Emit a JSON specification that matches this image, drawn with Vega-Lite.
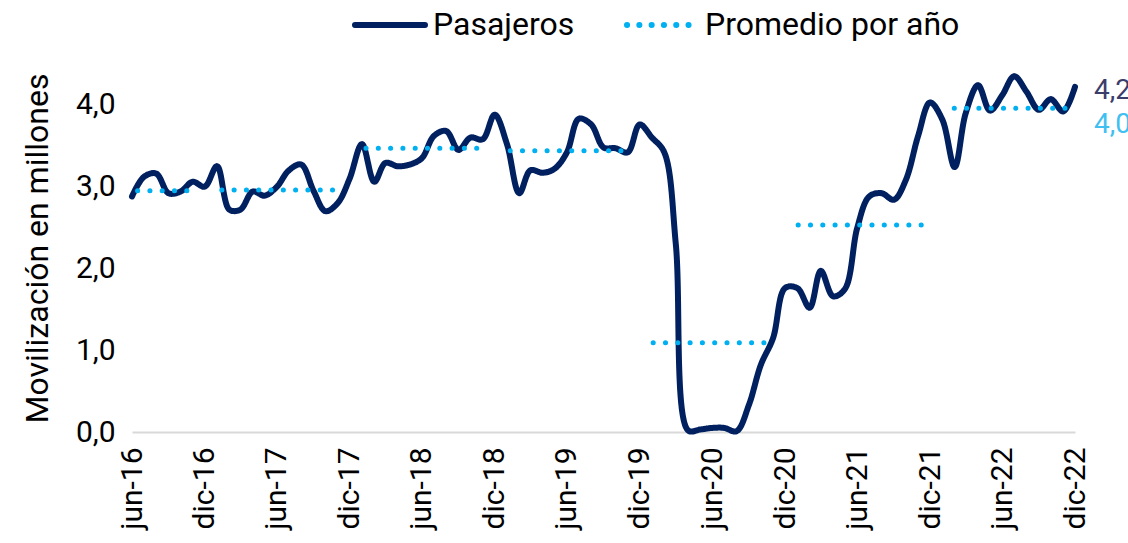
{
  "$schema": "https://vega.github.io/schema/vega-lite/v6.json",
  "width": 943,
  "height": 368,
  "autosize": "none",
  "padding": {"left": 132, "top": 64, "right": 53, "bottom": 111},
  "background": "white",
  "config": {
    "view": {"stroke": null},
    "font": "Roboto",
    "axis": {"labelFont": "Roboto", "titleFont": "Roboto"},
    "legend": {"labelFont": "Roboto"}
  },
  "datasets": {
    "pasajeros": [
      {"serie": "Pasajeros", "fecha": "2016-06-01", "valor": 2.88},
      {"serie": "Pasajeros", "fecha": "2016-07-01", "valor": 3.12},
      {"serie": "Pasajeros", "fecha": "2016-08-01", "valor": 3.16},
      {"serie": "Pasajeros", "fecha": "2016-09-01", "valor": 2.92},
      {"serie": "Pasajeros", "fecha": "2016-10-01", "valor": 2.94},
      {"serie": "Pasajeros", "fecha": "2016-11-01", "valor": 3.06},
      {"serie": "Pasajeros", "fecha": "2016-12-01", "valor": 3.0},
      {"serie": "Pasajeros", "fecha": "2017-01-01", "valor": 3.25},
      {"serie": "Pasajeros", "fecha": "2017-02-01", "valor": 2.72},
      {"serie": "Pasajeros", "fecha": "2017-03-01", "valor": 2.72},
      {"serie": "Pasajeros", "fecha": "2017-04-01", "valor": 2.94},
      {"serie": "Pasajeros", "fecha": "2017-05-01", "valor": 2.89},
      {"serie": "Pasajeros", "fecha": "2017-06-01", "valor": 3.0},
      {"serie": "Pasajeros", "fecha": "2017-07-01", "valor": 3.2},
      {"serie": "Pasajeros", "fecha": "2017-08-01", "valor": 3.27},
      {"serie": "Pasajeros", "fecha": "2017-09-01", "valor": 2.95},
      {"serie": "Pasajeros", "fecha": "2017-10-01", "valor": 2.7},
      {"serie": "Pasajeros", "fecha": "2017-11-01", "valor": 2.8},
      {"serie": "Pasajeros", "fecha": "2017-12-01", "valor": 3.1},
      {"serie": "Pasajeros", "fecha": "2018-01-01", "valor": 3.52},
      {"serie": "Pasajeros", "fecha": "2018-02-01", "valor": 3.06},
      {"serie": "Pasajeros", "fecha": "2018-03-01", "valor": 3.29},
      {"serie": "Pasajeros", "fecha": "2018-04-01", "valor": 3.25},
      {"serie": "Pasajeros", "fecha": "2018-05-01", "valor": 3.27},
      {"serie": "Pasajeros", "fecha": "2018-06-01", "valor": 3.35},
      {"serie": "Pasajeros", "fecha": "2018-07-01", "valor": 3.62},
      {"serie": "Pasajeros", "fecha": "2018-08-01", "valor": 3.68},
      {"serie": "Pasajeros", "fecha": "2018-09-01", "valor": 3.45},
      {"serie": "Pasajeros", "fecha": "2018-10-01", "valor": 3.6},
      {"serie": "Pasajeros", "fecha": "2018-11-01", "valor": 3.58},
      {"serie": "Pasajeros", "fecha": "2018-12-01", "valor": 3.88},
      {"serie": "Pasajeros", "fecha": "2019-01-01", "valor": 3.52},
      {"serie": "Pasajeros", "fecha": "2019-02-01", "valor": 2.92},
      {"serie": "Pasajeros", "fecha": "2019-03-01", "valor": 3.2},
      {"serie": "Pasajeros", "fecha": "2019-04-01", "valor": 3.17},
      {"serie": "Pasajeros", "fecha": "2019-05-01", "valor": 3.22},
      {"serie": "Pasajeros", "fecha": "2019-06-01", "valor": 3.42},
      {"serie": "Pasajeros", "fecha": "2019-07-01", "valor": 3.83},
      {"serie": "Pasajeros", "fecha": "2019-08-01", "valor": 3.76},
      {"serie": "Pasajeros", "fecha": "2019-09-01", "valor": 3.48},
      {"serie": "Pasajeros", "fecha": "2019-10-01", "valor": 3.47},
      {"serie": "Pasajeros", "fecha": "2019-11-01", "valor": 3.42},
      {"serie": "Pasajeros", "fecha": "2019-12-01", "valor": 3.76},
      {"serie": "Pasajeros", "fecha": "2020-01-01", "valor": 3.6},
      {"serie": "Pasajeros", "fecha": "2020-02-01", "valor": 3.42},
      {"serie": "Pasajeros", "fecha": "2020-03-01", "valor": 2.3},
      {"serie": "Pasajeros", "fecha": "2020-04-01", "valor": 0.02},
      {"serie": "Pasajeros", "fecha": "2020-05-01", "valor": 0.03},
      {"serie": "Pasajeros", "fecha": "2020-06-01", "valor": 0.05},
      {"serie": "Pasajeros", "fecha": "2020-07-01", "valor": 0.05},
      {"serie": "Pasajeros", "fecha": "2020-08-01", "valor": 0.01},
      {"serie": "Pasajeros", "fecha": "2020-09-01", "valor": 0.33},
      {"serie": "Pasajeros", "fecha": "2020-10-01", "valor": 0.82},
      {"serie": "Pasajeros", "fecha": "2020-11-01", "valor": 1.15},
      {"serie": "Pasajeros", "fecha": "2020-12-01", "valor": 1.76},
      {"serie": "Pasajeros", "fecha": "2021-01-01", "valor": 1.76},
      {"serie": "Pasajeros", "fecha": "2021-02-01", "valor": 1.52},
      {"serie": "Pasajeros", "fecha": "2021-03-01", "valor": 1.97},
      {"serie": "Pasajeros", "fecha": "2021-04-01", "valor": 1.66},
      {"serie": "Pasajeros", "fecha": "2021-05-01", "valor": 1.75},
      {"serie": "Pasajeros", "fecha": "2021-06-01", "valor": 2.5},
      {"serie": "Pasajeros", "fecha": "2021-07-01", "valor": 2.88},
      {"serie": "Pasajeros", "fecha": "2021-08-01", "valor": 2.92},
      {"serie": "Pasajeros", "fecha": "2021-09-01", "valor": 2.84},
      {"serie": "Pasajeros", "fecha": "2021-10-01", "valor": 3.08},
      {"serie": "Pasajeros", "fecha": "2021-11-01", "valor": 3.62},
      {"serie": "Pasajeros", "fecha": "2021-12-01", "valor": 4.03},
      {"serie": "Pasajeros", "fecha": "2022-01-01", "valor": 3.82},
      {"serie": "Pasajeros", "fecha": "2022-02-01", "valor": 3.24},
      {"serie": "Pasajeros", "fecha": "2022-03-01", "valor": 3.9},
      {"serie": "Pasajeros", "fecha": "2022-04-01", "valor": 4.24},
      {"serie": "Pasajeros", "fecha": "2022-05-01", "valor": 3.93},
      {"serie": "Pasajeros", "fecha": "2022-06-01", "valor": 4.12},
      {"serie": "Pasajeros", "fecha": "2022-07-01", "valor": 4.35},
      {"serie": "Pasajeros", "fecha": "2022-08-01", "valor": 4.16},
      {"serie": "Pasajeros", "fecha": "2022-09-01", "valor": 3.94},
      {"serie": "Pasajeros", "fecha": "2022-10-01", "valor": 4.07},
      {"serie": "Pasajeros", "fecha": "2022-11-01", "valor": 3.92},
      {"serie": "Pasajeros", "fecha": "2022-12-01", "valor": 4.22}
    ],
    "promedio": [
      {"serie": "Promedio por año", "anio": "2016", "fecha": "2016-06-15", "valor": 2.95},
      {"serie": "Promedio por año", "anio": "2016", "fecha": "2016-10-25", "valor": 2.95},
      {"serie": "Promedio por año", "anio": "2017", "fecha": "2017-01-13", "valor": 2.96},
      {"serie": "Promedio por año", "anio": "2017", "fecha": "2017-10-20", "valor": 2.96},
      {"serie": "Promedio por año", "anio": "2018", "fecha": "2018-01-11", "valor": 3.47},
      {"serie": "Promedio por año", "anio": "2018", "fecha": "2018-10-20", "valor": 3.47},
      {"serie": "Promedio por año", "anio": "2019", "fecha": "2019-01-09", "valor": 3.44},
      {"serie": "Promedio por año", "anio": "2019", "fecha": "2019-10-17", "valor": 3.44},
      {"serie": "Promedio por año", "anio": "2020", "fecha": "2020-01-04", "valor": 1.09},
      {"serie": "Promedio por año", "anio": "2020", "fecha": "2020-10-14", "valor": 1.09},
      {"serie": "Promedio por año", "anio": "2021", "fecha": "2021-01-03", "valor": 2.53},
      {"serie": "Promedio por año", "anio": "2021", "fecha": "2021-11-11", "valor": 2.53},
      {"serie": "Promedio por año", "anio": "2022", "fecha": "2022-01-31", "valor": 3.96},
      {"serie": "Promedio por año", "anio": "2022", "fecha": "2022-11-09", "valor": 3.96}
    ],
    "etiquetas": [
      {"serie": "Pasajeros", "fecha": "2022-12-01", "valor": 4.22, "texto": "4,2"},
      {"serie": "Promedio por año", "fecha": "2022-12-01", "valor": 3.96, "texto": "4,0"}
    ]
  },
  "layer": [
    {
      "data": {"name": "pasajeros"},
      "mark": {"type": "line", "interpolate": "catmull-rom", "strokeWidth": 6, "strokeCap": "round", "strokeJoin": "round"},
      "encoding": {
        "x": {
          "field": "fecha",
          "type": "temporal",
          "scale": {
            "type": "utc",
            "domain": [
              {"year": 2016, "month": 6, "date": 1, "utc": true},
              {"year": 2022, "month": 12, "date": 1, "utc": true}
            ]
          },
          "axis": {
            "title": null,
            "values": [
              {"year": 2016, "month": 6, "date": 1, "utc": true},
              {"year": 2016, "month": 12, "date": 1, "utc": true},
              {"year": 2017, "month": 6, "date": 1, "utc": true},
              {"year": 2017, "month": 12, "date": 1, "utc": true},
              {"year": 2018, "month": 6, "date": 1, "utc": true},
              {"year": 2018, "month": 12, "date": 1, "utc": true},
              {"year": 2019, "month": 6, "date": 1, "utc": true},
              {"year": 2019, "month": 12, "date": 1, "utc": true},
              {"year": 2020, "month": 6, "date": 1, "utc": true},
              {"year": 2020, "month": 12, "date": 1, "utc": true},
              {"year": 2021, "month": 6, "date": 1, "utc": true},
              {"year": 2021, "month": 12, "date": 1, "utc": true},
              {"year": 2022, "month": 6, "date": 1, "utc": true},
              {"year": 2022, "month": 12, "date": 1, "utc": true}
            ],
            "labelExpr": "(utcFormat(datum.value, '%m') == '06' ? 'jun-' : 'dic-') + utcFormat(datum.value, '%y')",
            "labelAngle": 270,
            "labelFontSize": 30,
            "labelColor": "#000000",
            "labelPadding": 15,
            "labelOverlap": false,
            "labelBound": false,
            "labelFlush": false,
            "ticks": false,
            "grid": false,
            "domainColor": "#d9d9d9",
            "domainWidth": 2
          }
        },
        "y": {
          "field": "valor",
          "type": "quantitative",
          "scale": {"domain": [0, 4.5]},
          "axis": {
            "title": "Movilización en millones",
            "values": [0, 1, 2, 3, 4],
            "labelExpr": "replace(format(datum.value, '.1f'), '.', ',')",
            "labelFontSize": 30,
            "labelColor": "#000000",
            "labelPadding": 17,
            "titleFontSize": 32,
            "titleFontWeight": "normal",
            "titleColor": "#000000",
            "titlePadding": 21,
            "domain": false,
            "ticks": false,
            "grid": false
          }
        },
        "color": {
          "field": "serie",
          "type": "nominal",
          "scale": {"domain": ["Pasajeros", "Promedio por año"], "range": ["#002060", "#00B0F0"]},
          "legend": {
            "title": null,
            "orient": "none",
            "legendX": 220,
            "legendY": -77,
            "direction": "horizontal",
            "symbolType": "stroke",
            "symbolSize": 4900,
            "symbolStrokeWidth": 6,
            "labelFontSize": 32,
            "labelColor": "#000000",
            "labelOffset": 5,
            "labelLimit": 500,
            "columnPadding": 40,
            "padding": 0,
            "encode": {"symbols": {"update": {"strokeCap": {"value": "round"}}}}
          }
        },
        "strokeDash": {
          "field": "serie",
          "type": "nominal",
          "scale": {"domain": ["Pasajeros", "Promedio por año"], "range": [[1, 0], [0.1, 12.2]]}
        }
      }
    },
    {
      "data": {"name": "promedio"},
      "mark": {"type": "line", "strokeWidth": 5, "strokeCap": "round"},
      "encoding": {
        "x": {"field": "fecha", "type": "temporal"},
        "y": {"field": "valor", "type": "quantitative"},
        "detail": {"field": "anio", "type": "nominal"},
        "color": {"field": "serie", "type": "nominal"},
        "strokeDash": {"field": "serie", "type": "nominal"}
      }
    },
    {
      "data": {"name": "etiquetas"},
      "transform": [{"filter": "datum.serie == 'Pasajeros'"}],
      "mark": {"type": "text", "align": "left", "baseline": "middle", "dx": 19, "dy": 4, "fontSize": 28, "color": "#3B3D6B"},
      "encoding": {
        "x": {"field": "fecha", "type": "temporal"},
        "y": {"field": "valor", "type": "quantitative"},
        "text": {"field": "texto"}
      }
    },
    {
      "data": {"name": "etiquetas"},
      "transform": [{"filter": "datum.serie == 'Promedio por año'"}],
      "mark": {"type": "text", "align": "left", "baseline": "middle", "dx": 19, "dy": 17, "fontSize": 28, "color": "#40C0F0"},
      "encoding": {
        "x": {"field": "fecha", "type": "temporal"},
        "y": {"field": "valor", "type": "quantitative"},
        "text": {"field": "texto"}
      }
    }
  ]
}
